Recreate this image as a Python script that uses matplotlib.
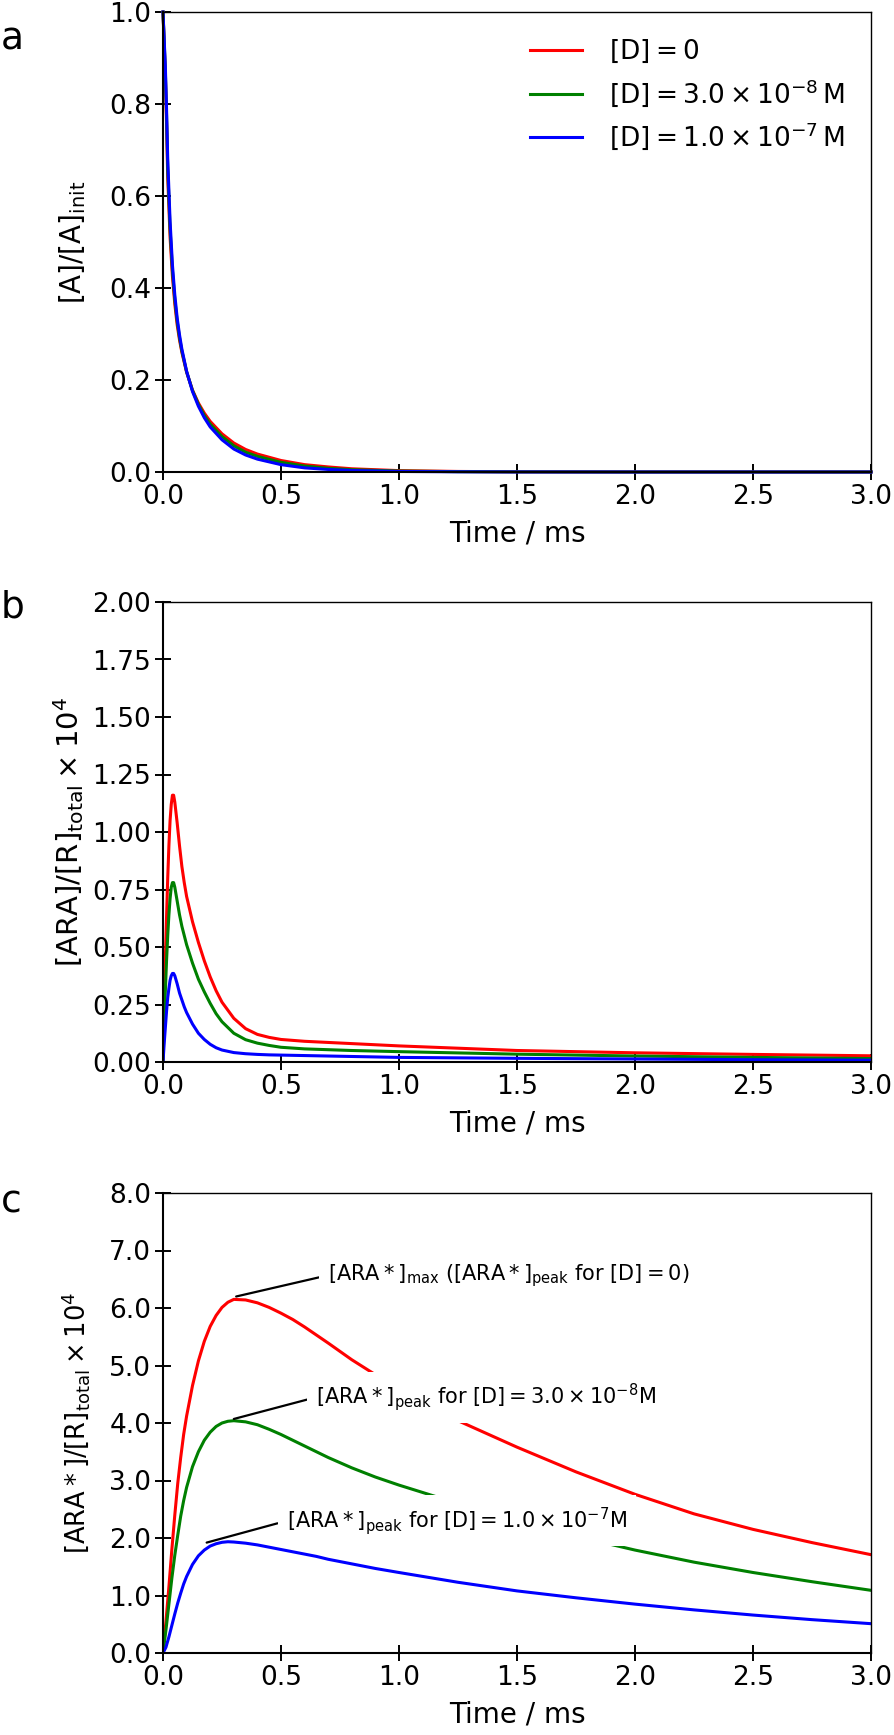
import numpy as np
import matplotlib
matplotlib.use("Agg")
import matplotlib.pyplot as plt
from matplotlib.ticker import FormatStrFormatter

# ---------------- data ----------------
t_a = [0, 0.005, 0.01, 0.015, 0.02, 0.03, 0.04, 0.05, 0.06, 0.07, 0.08, 0.1, 0.125, 0.15,
       0.175, 0.2, 0.25, 0.3, 0.35, 0.4, 0.5, 0.6, 0.7, 0.8, 1.0, 1.25, 1.5, 2.0, 3.0]
a_red = [1.0, 0.93, 0.86, 0.76, 0.64, 0.51, 0.425, 0.365, 0.32, 0.287, 0.26, 0.217, 0.178, 0.15,
         0.128, 0.11, 0.083, 0.063, 0.049, 0.039, 0.025, 0.016, 0.011, 0.007, 0.003, 0.0012,
         0.0005, 0.0001, 0]
a_green = [1.0, 0.935, 0.87, 0.775, 0.66, 0.528, 0.438, 0.375, 0.328, 0.292, 0.263, 0.218, 0.177,
           0.147, 0.123, 0.104, 0.077, 0.057, 0.043, 0.034, 0.021, 0.013, 0.008, 0.005, 0.002,
           0.0008, 0.0003, 0, 0]
a_blue = [1.0, 0.94, 0.88, 0.79, 0.68, 0.545, 0.45, 0.385, 0.335, 0.298, 0.267, 0.219, 0.175,
          0.143, 0.118, 0.098, 0.07, 0.05, 0.037, 0.028, 0.016, 0.009, 0.0055, 0.0033, 0.0012,
          0.0004, 0.0001, 0, 0]

t_b = [0, 0.005, 0.01, 0.015, 0.02, 0.025, 0.03, 0.035, 0.04, 0.045, 0.05, 0.06, 0.07, 0.08,
       0.09, 0.1, 0.125, 0.15, 0.175, 0.2, 0.225, 0.25, 0.3, 0.35, 0.4, 0.45, 0.5, 0.6, 0.8,
       1.0, 1.5, 2.0, 2.5, 3.0]
b_red = [0, 0.25, 0.45, 0.63, 0.8, 0.94, 1.05, 1.12, 1.16, 1.16, 1.13, 1.04, 0.94, 0.85,
         0.78, 0.72, 0.61, 0.52, 0.44, 0.37, 0.31, 0.26, 0.19, 0.145, 0.12, 0.107, 0.098,
         0.09, 0.08, 0.07, 0.05, 0.04, 0.033, 0.027]
b_green = [0, 0.17, 0.31, 0.44, 0.55, 0.64, 0.71, 0.76, 0.78, 0.78, 0.76, 0.70, 0.64, 0.59,
           0.55, 0.51, 0.43, 0.36, 0.305, 0.255, 0.21, 0.175, 0.125, 0.097, 0.082, 0.072,
           0.064, 0.057, 0.05, 0.045, 0.034, 0.026, 0.02, 0.015]
b_blue = [0, 0.08, 0.15, 0.22, 0.28, 0.32, 0.355, 0.375, 0.385, 0.385, 0.375, 0.34, 0.30,
          0.27, 0.24, 0.215, 0.165, 0.125, 0.098, 0.077, 0.062, 0.052, 0.041, 0.036, 0.033,
          0.031, 0.03, 0.028, 0.024, 0.02, 0.016, 0.013, 0.01, 0.008]

t_c = [0, 0.0125, 0.025, 0.0375, 0.05, 0.0625, 0.075, 0.0875, 0.1, 0.125, 0.15, 0.175, 0.2,
       0.225, 0.25, 0.275, 0.3, 0.35, 0.4, 0.45, 0.5, 0.55, 0.6, 0.65, 0.7, 0.8, 0.9, 1.0,
       1.25, 1.5, 1.75, 2.0, 2.25, 2.5, 2.75, 3.0]
c_red = [0, 0.55, 1.15, 1.8, 2.4, 2.95, 3.4, 3.8, 4.12, 4.65, 5.08, 5.42, 5.68, 5.87, 6.01,
         6.10, 6.15, 6.14, 6.09, 6.01, 5.91, 5.80, 5.67, 5.53, 5.39, 5.10, 4.84, 4.60, 4.04,
         3.58, 3.15, 2.76, 2.42, 2.15, 1.92, 1.71]
c_green = [0, 0.4, 0.85, 1.3, 1.7, 2.05, 2.38, 2.65, 2.88, 3.24, 3.5, 3.7, 3.84, 3.94, 4.0,
           4.03, 4.04, 4.02, 3.97, 3.89, 3.80, 3.70, 3.60, 3.50, 3.40, 3.22, 3.06, 2.92, 2.60,
           2.30, 2.03, 1.79, 1.58, 1.40, 1.24, 1.09]
c_blue = [0, 0.1, 0.28, 0.48, 0.68, 0.87, 1.04, 1.2, 1.33, 1.54, 1.69, 1.79, 1.86, 1.9, 1.925,
          1.935, 1.93, 1.91, 1.88, 1.84, 1.80, 1.76, 1.72, 1.68, 1.63, 1.55, 1.47, 1.40, 1.23,
          1.08, 0.96, 0.85, 0.75, 0.66, 0.58, 0.51]

series_labels = [r'$[\mathrm{D}] = 0$',
                 r'$[\mathrm{D}] = 3.0\times10^{-8}\,\mathrm{M}$',
                 r'$[\mathrm{D}] = 1.0\times10^{-7}\,\mathrm{M}$']
colors = ['#ff0000', '#008000', '#0000ff']

x_ticks = [0.0, 0.5, 1.0, 1.5, 2.0, 2.5, 3.0]
a_yticks = [0.0, 0.2, 0.4, 0.6, 0.8, 1.0]
b_yticks = [0.0, 0.25, 0.5, 0.75, 1.0, 1.25, 1.5, 1.75, 2.0]
c_yticks = [0.0, 1.0, 2.0, 3.0, 4.0, 5.0, 6.0, 7.0, 8.0]

ann_texts = [r'$[\mathrm{ARA}*]_{\mathrm{max}}$ $([\mathrm{ARA}*]_{\mathrm{peak}}$ for $[\mathrm{D}] = 0)$',
             r'$[\mathrm{ARA}*]_{\mathrm{peak}}$ for $[\mathrm{D}] = 3.0\times10^{-8}\mathrm{M}$',
             r'$[\mathrm{ARA}*]_{\mathrm{peak}}$ for $[\mathrm{D}] = 1.0\times10^{-7}\mathrm{M}$']
ann_xy = [(0.31, 6.2), (0.30, 4.07), (0.185, 1.92)]
ann_xytext = [(0.70, 6.57), (0.65, 4.45), (0.525, 2.30)]

# ---------------- style ----------------
plt.rcParams['font.family'] = ['DejaVu Sans']
plt.rcParams['mathtext.fontset'] = 'dejavusans'
plt.rcParams['mathtext.default'] = 'regular'

W, H = 894, 1735
fig = plt.figure(figsize=(W / 100, H / 100), dpi=100)

left_px, right_px = 163, 871
tops = [12, 602, 1193]
h_px = 460
w_px = right_px - left_px


def make_ax(top):
    return fig.add_axes([left_px / W, 1 - (top + h_px) / H, w_px / W, h_px / H])


TICK_FS = 19
XLAB_FS = 20


def style(ax, yticks, yfmt, ylim, ylabel, ylab_fs, ylab_x):
    ax.set_xlim(0, 3)
    ax.set_ylim(*ylim)
    ax.set_xticks(x_ticks)
    ax.set_yticks(yticks)
    ax.xaxis.set_major_formatter(FormatStrFormatter('%.1f'))
    ax.yaxis.set_major_formatter(FormatStrFormatter(yfmt))
    ax.tick_params(direction='inout', length=11, width=1.4, labelsize=TICK_FS,
                   top=False, right=False, pad=3)
    for s in ['left', 'bottom']:
        ax.spines[s].set_linewidth(1.5)
    for s in ['top', 'right']:
        ax.spines[s].set_linewidth(1.0)
    ax.set_xlabel('Time / ms', fontsize=XLAB_FS)
    ax.xaxis.set_label_coords(0.5, -61 / h_px)
    ax.xaxis.label.set_verticalalignment('center')
    ax.set_ylabel(ylabel, fontsize=ylab_fs)
    ax.yaxis.set_label_coords((ylab_x - left_px) / w_px, 0.5)
    ax.yaxis.label.set_verticalalignment('center')


LW = 2.2
ax_a = make_ax(tops[0])
for y, c, lab in zip([a_red, a_green, a_blue], colors, series_labels):
    ax_a.plot(t_a, y, color=c, lw=LW, label=lab, clip_on=False)
style(ax_a, a_yticks, '%.1f', (0, 1.0), r'$[\mathrm{A}]/[\mathrm{A}]_{\mathrm{init}}$', 20, 73)
ax_a.legend(loc='upper right', frameon=False, fontsize=19, handlelength=2.0,
            handletextpad=1.0, labelspacing=0.45, borderaxespad=0.6)

ax_b = make_ax(tops[1])
for y, c in zip([b_red, b_green, b_blue], colors):
    ax_b.plot(t_b, y, color=c, lw=LW)
style(ax_b, b_yticks, '%.2f', (0, 2.0),
      r'$[\mathrm{ARA}]/[\mathrm{R}]_{\mathrm{total}}\times10^{4}$', 21, 69)

ax_c = make_ax(tops[2])
for y, c in zip([c_red, c_green, c_blue], colors):
    ax_c.plot(t_c, y, color=c, lw=LW)
style(ax_c, c_yticks, '%.1f', (0, 8.0),
      r'$[\mathrm{ARA}*]/[\mathrm{R}]_{\mathrm{total}}\times10^{4}$', 18.5, 76)

for txt, xy, xyt in zip(ann_texts, ann_xy, ann_xytext):
    ax_c.annotate(txt, xy=xy, xytext=xyt, textcoords='data', ha='left', va='center',
                  fontsize=15,
                  bbox=dict(boxstyle='square,pad=0.45', fc='white', ec='none'),
                  arrowprops=dict(arrowstyle='-', color='black', lw=1.6,
                                  relpos=(0, 0.5), shrinkA=0, shrinkB=0),
                  zorder=5)

for lab, ypx in zip(['a', 'b', 'c'], [40, 607, 1202]):
    fig.text(1 / W, 1 - ypx / H, lab, fontsize=27, ha='left', va='center')

fig.savefig('out.png', dpi=100)
